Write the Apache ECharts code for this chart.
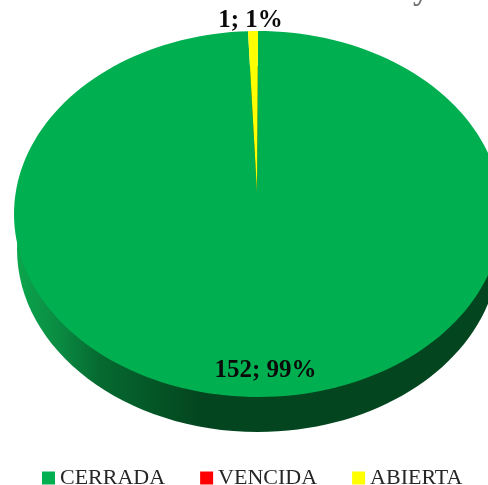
<!DOCTYPE html>
<html>
<head>
<meta charset="utf-8">
<style>html,body{margin:0;padding:0;background:#fff;overflow:hidden}#chart{width:488px;height:485px}</style>
<script src="https://cdn.jsdelivr.net/npm/echarts@6/dist/echarts.min.js"></script>
</head>
<body>
<div id="chart"></div>
<script>
const categories = ['CERRADA', 'VENCIDA', 'ABIERTA'];
const values = [152, 0, 1];
const percents = [99, 0, 1];
const colors = ['#00B050', '#FF0000', '#FFFF00'];

// geometria de la elipse (pie inclinado)
const CX = 258, CY = 214, RX = 244, RY = 183, DEPTH = 35;
const APEX_X = 257, APEX_Y = 192;
const total = values.reduce((a, b) => a + b, 0);

function rimPoint(frac) {
  const a = frac * Math.PI * 2;
  return [CX + RX * Math.sin(a), CY - RY * Math.cos(a)];
}

function sliceRender(idx) {
  return function () {
    const before = values.slice(0, idx).reduce((a, b) => a + b, 0);
    const v = values[idx];
    if (!v) return { type: 'group', children: [] };
    const pts = [[APEX_X, APEX_Y]];
    const n = Math.max(2, Math.ceil(v / total * 180));
    for (let i = 0; i <= n; i++) pts.push(rimPoint((before + v * i / n) / total));
    const labelPos = idx === 0 ? [265.5, 371] : [250.5, 21];
    return {
      type: 'group',
      children: [
        { type: 'polygon', shape: { points: pts }, style: { fill: colors[idx] } },
        {
          type: 'text', x: labelPos[0], y: labelPos[1], z2: 10,
          style: {
            text: v + '; ' + percents[idx] + '%',
            font: 'bold 25px "Liberation Serif"', fill: '#0a0a0a',
            align: 'center', verticalAlign: 'middle'
          }
        }
      ]
    };
  };
}

const chart = echarts.init(document.getElementById('chart'), null, { renderer: 'canvas' });
chart.setOption({
  animation: false,
  legend: {
    data: categories, top: 462, left: 37, itemWidth: 13, itemHeight: 13, itemGap: 35,
    icon: 'rect',
    textStyle: { fontFamily: 'Liberation Serif', fontSize: 22, color: '#262626' }
  },
  // resto del titulo cortado arriba
  graphic: [{
    type: 'text', left: 413, top: -25,
    style: { text: 'y', font: 'bold 32px "Liberation Serif"', fill: '#707070' }
  }],
  series: [
    // canto inferior del pie
    {
      type: 'custom', coordinateSystem: 'none', silent: true, data: [0], z: 1,
      renderItem: () => ({
        type: 'ellipse',
        shape: { cx: CX, cy: CY + DEPTH, rx: RX - 3, ry: RY },
        style: {
          fill: new echarts.graphic.LinearGradient(0, 0, 1, 0, [
            { offset: 0, color: '#0BA64C' },
            { offset: 0.09, color: '#0A8A42' },
            { offset: 0.17, color: '#066A30' },
            { offset: 0.38, color: '#03451F' },
            { offset: 1, color: '#03451F' }
          ])
        }
      })
    },
    ...categories.map((name, i) => ({
      name, type: 'custom', coordinateSystem: 'none', data: [values[i]], z: 2 + i,
      itemStyle: { color: colors[i] },
      renderItem: sliceRender(i)
    }))
  ]
});
</script>
</body>
</html>
